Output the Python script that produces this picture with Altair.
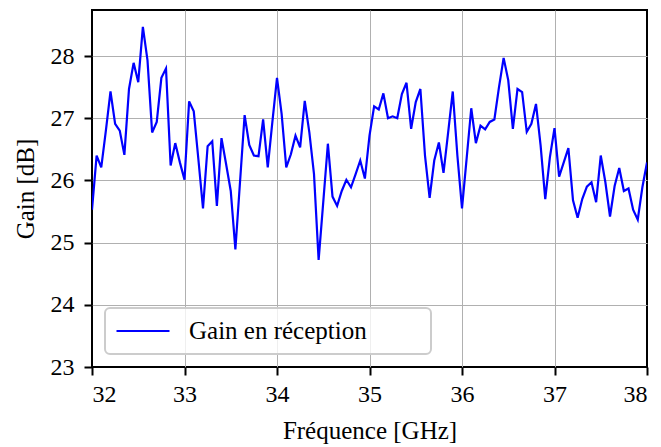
import altair as alt
import pandas as pd

freq_start = 32.0
freq_step = 0.05
gain = [
    25.53, 26.40, 26.21, 26.80, 27.43, 26.91, 26.80, 26.41, 27.47, 27.89,
    27.58, 28.47, 27.93, 26.77, 26.94, 27.65, 27.80, 26.24, 26.60, 26.29,
    26.01, 27.27, 27.11, 26.34, 25.55, 26.55, 26.63, 25.59, 26.68, 26.26,
    25.83, 24.89, 25.97, 27.05, 26.57, 26.40, 26.39, 26.98, 26.21, 26.94,
    27.65, 27.07, 26.21, 26.42, 26.72, 26.53, 27.28, 26.77, 26.10, 24.72,
    25.65, 26.59, 25.74, 25.59, 25.83, 26.01, 25.89, 26.10, 26.32, 26.03,
    26.72, 27.19, 27.14, 27.40, 27.00, 27.03, 27.00, 27.39, 27.57, 26.83,
    27.26, 27.47, 26.40, 25.72, 26.32, 26.61, 26.12, 26.77, 27.43, 26.40,
    25.55, 26.35, 27.16, 26.60, 26.88, 26.82, 26.94, 26.98, 27.50, 27.97,
    27.61, 26.83, 27.47, 27.42, 26.78, 26.91, 27.23, 26.56, 25.70, 26.37,
    26.84, 26.06, 26.29, 26.52, 25.68, 25.40, 25.70, 25.90, 25.97, 25.65,
    26.40, 25.97, 25.42, 25.91, 26.20, 25.83, 25.87, 25.53, 25.37, 25.89,
    26.29,
]
freq = [round(freq_start + freq_step * i, 2) for i in range(len(gain))]
series_name = "Gain en réception"
x_ticks = [32, 33, 34, 35, 36, 37, 38]
y_ticks = [23, 24, 25, 26, 27, 28]

df = pd.DataFrame({"freq": freq, "gain": gain, "serie": series_name})

FONT = "'Liberation Serif', 'Times New Roman', serif"

chart = (
    alt.Chart(df)
    .mark_line(strokeWidth=2.2, clip=True)
    .encode(
        x=alt.X(
            "freq:Q",
            scale=alt.Scale(domain=[32, 38], nice=False, zero=False),
            axis=alt.Axis(
                values=x_ticks,
                title="Fréquence [GHz]",
                format="d",
                labelPadding=7,
                titlePadding=12,
                gridOpacity={"condition": {"test": "datum.value === 32 || datum.value === 38", "value": 0}, "value": 1},
            ),
        ),
        y=alt.Y(
            "gain:Q",
            scale=alt.Scale(domain=[23, 28.74], nice=False, zero=False),
            axis=alt.Axis(
                values=y_ticks,
                title="Gain [dB]",
                format="d",
                labelPadding=10,
                titlePadding=12,
                gridOpacity={"condition": {"test": "datum.value === 23", "value": 0}, "value": 1},
            ),
        ),
        color=alt.Color(
            "serie:N",
            scale=alt.Scale(domain=[series_name], range=["#0000ff"]),
            legend=alt.Legend(
                title=None,
                orient="none",
                legendX=13,
                legendY=298,
                symbolType="stroke",
                symbolSize=2809,
                symbolStrokeWidth=2.2,
                labelOffset=18,
                labelLimit=600,
                clipHeight=26,
                labelExpr="datum.label + '\u2800\u2800\u2800'",
            ),
        ),
    )
    .properties(
        width=555,
        height=357,
        autosize=alt.AutoSizeParams(type="none"),
        padding={"left": 84, "top": 2, "right": 6, "bottom": 78},
    )
    .configure(font=FONT)
    .configure_view(stroke="black", strokeWidth=2)
    .configure_axis(
        domain=False,
        grid=True,
        gridColor="#b0b0b0",
        gridWidth=1,
        ticks=True,
        tickColor="black",
        tickWidth=2,
        tickSize=8,
        labelFont=FONT,
        labelFontSize=24,
        labelColor="black",
        titleFont=FONT,
        titleFontSize=25,
        titleFontWeight="normal",
        titleColor="black",
    )
    .configure_legend(
        labelFont=FONT,
        labelFontSize=25,
        labelColor="black",
        fillColor="rgba(255,255,255,0.8)",
        strokeColor="#cccccc",
        strokeWidth=2,
        cornerRadius=5,
        padding=10,
    )
)

chart.save("out.html", embed_options={"renderer": "svg", "actions": False})
